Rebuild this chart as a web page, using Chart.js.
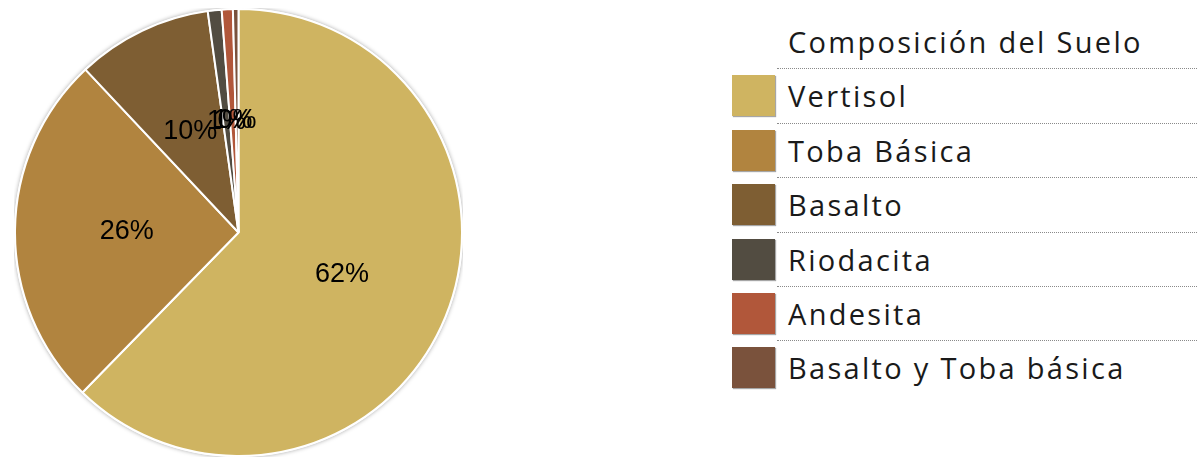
<!DOCTYPE html>
<html>
<head>
<meta charset="utf-8">
<title>Composición del Suelo</title>
<script src="https://cdn.jsdelivr.net/npm/chart.js"></script>
<style>
    html, body { margin: 0; padding: 0; background: #fff; }
    body { width: 1197px; height: 460px; position: relative; overflow: hidden; }
    #pieBox { position: absolute; left: 14px; top: 8px; width: 449px; height: 449px; }
    #legend { position: absolute; left: 732px; top: 15px; width: 465px; font-family: 'Open Sans', sans-serif; color: #1a1a1a; }
    .row { display: flex; height: 54.4px; }
    .sw { width: 43px; height: 41px; margin-top: 6px; box-shadow: 1px 1px 1px rgba(0,0,0,0.35); }
    .txt { flex: 1; margin-left: 2px; padding-left: 11px; border-bottom: 1px dotted #8a8a8a; font-size: 29px; letter-spacing: 2.3px; line-height: 54px; white-space: nowrap; }
    .row:last-child .txt { border-bottom: none; }
</style>
</head>
<body>
<div id="pieBox"><canvas id="pie"></canvas></div>
<div id="legend"></div>
<script>
// data (share of each soil type, %)
const chartTitle = 'Composición del Suelo';
const labels = ['Vertisol', 'Toba Básica', 'Basalto', 'Riodacita', 'Andesita', 'Basalto y Toba básica'];
const values = [62.3, 25.7, 9.8, 1.0, 0.8, 0.4];
const colors = ['#CFB461', '#B1843F', '#7E5E33', '#524C41', '#B1573A', '#7A523C'];

// html legend (title row + one row per slice)
const legend = document.getElementById('legend');
let rows = `<div class="row"><div style="width:43px"></div><div class="txt">${chartTitle}</div></div>`;
labels.forEach((l, i) => {
    rows += `<div class="row"><div class="sw" style="background:${colors[i]}"></div><div class="txt">${l}</div></div>`;
});
legend.innerHTML = rows;

const total = values.reduce((a, b) => a + b, 0);

// soft shadow ring under the pie
const pieShadow = {
    id: 'pieShadow',
    beforeDatasetsDraw(chart) {
        const arc = chart.getDatasetMeta(0).data[0];
        if (!arc) return;
        const ctx = chart.ctx;
        ctx.save();
        ctx.shadowColor = 'rgba(0,0,0,0.35)';
        ctx.shadowBlur = 4;
        ctx.fillStyle = '#fff';
        ctx.beginPath();
        ctx.arc(arc.x, arc.y, arc.outerRadius + 1, 0, Math.PI * 2);
        ctx.fill();
        ctx.restore();
    }
};

// percent labels at the middle of each slice
const pctLabels = {
    id: 'pctLabels',
    afterDatasetsDraw(chart) {
        const ctx = chart.ctx;
        ctx.save();
        ctx.font = '27px "Liberation Sans", Arial, sans-serif';
        ctx.fillStyle = '#000';
        ctx.textAlign = 'center';
        ctx.textBaseline = 'middle';
        chart.getDatasetMeta(0).data.forEach((arc, i) => {
            const p = arc.tooltipPosition();
            ctx.fillText(Math.round(values[i] / total * 100) + '%', p.x, p.y);
        });
        ctx.restore();
    }
};

new Chart(document.getElementById('pie'), {
    type: 'pie',
    data: {
        labels: labels,
        datasets: [{
            data: values,
            backgroundColor: colors,
            borderColor: '#fff',
            borderWidth: 2
        }]
    },
    options: {
        responsive: true,
        maintainAspectRatio: false,
        animation: false,
        layout: { padding: 0 },
        plugins: {
            legend: { display: false },
            tooltip: { enabled: false }
        }
    },
    plugins: [pieShadow, pctLabels]
});
</script>
</body>
</html>
